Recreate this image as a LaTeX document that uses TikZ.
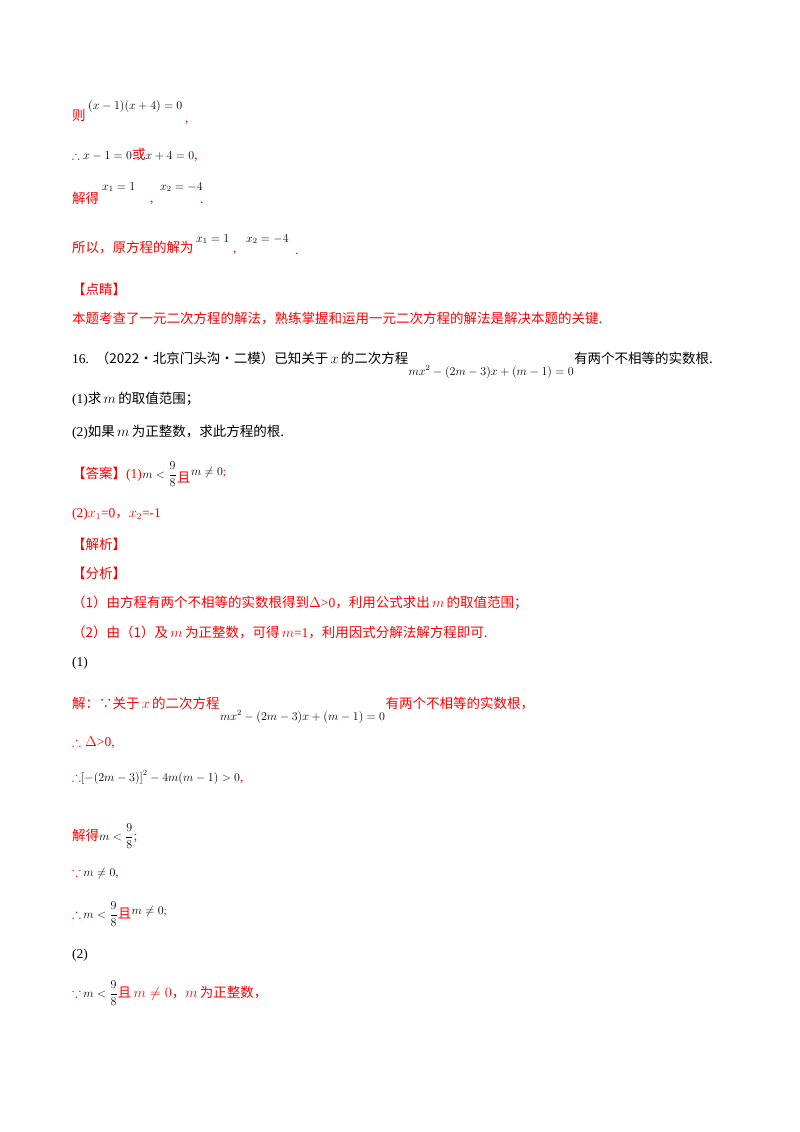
\documentclass[tikz,border=0pt]{standalone}
\usepackage{amsmath,amssymb}
\usepackage{fontspec}
\setmainfont{Liberation Serif}
\newfontfamily\cjk{Noto Sans CJK SC}
\definecolor{rd}{HTML}{FF0000}
\newcommand{\R}[1]{\textcolor{rd}{\cjk #1}}
\newcommand{\Rl}[1]{\textcolor{rd}{#1}}
\begin{document}
\begin{tikzpicture}[x=1pt,y=-1pt,
  t/.style={anchor=base west,inner sep=0pt,font=\fontsize{13.5}{16}\selectfont},
  fm/.style={t,font=\fontsize{11.5}{14}\selectfont}]
\useasboundingbox[fill=white] (0,0) rectangle (800,1132);
\node[t] (a1) at (72,120) {\R{则}};
\node[fm] (a2) at (88,109) {$(x-1)(x+4)=0$};
\node[t] (a3) at (185,122) {\Rl{,}};
\node[t] (b1) at (72,159) {{\fontsize{11.5}{14}\selectfont$\therefore x-1=0$}\R{或}{\fontsize{11.5}{14}\selectfont$x+4=0$}\Rl{,}};
\node[t] (c1) at (72,203) {\R{解得}};
\node[fm] (c2) at (102,190) {$x_1=1$};
\node[t] (c3) at (150,202) {\Rl{,}};
\node[fm] (c5) at (160,190) {$x_2=-4$};
\node[t] (c6) at (200,203) {\Rl{.}};
\node[t] (d1) at (72,252) {\R{所以，原方程的解为}};
\node[fm] (d2) at (196,242) {$x_1=1$};
\node[t] (d3) at (233,252) {\Rl{,}};
\node[fm] (d4) at (246,242) {$x_2=-4$};
\node[t] (d5) at (295,254) {\Rl{.}};
\node[t] (e1) at (72,294) {\R{【点睛】}};
\node[t] (e2) at (72,323) {\R{本题考查了一元二次方程的解法，熟练掌握和运用一元二次方程的解法是解决本题的关键.}};
\node[t] (f1) at (72,363) {16.\ \ {\cjk（2022·北京门头沟·二模）已知关于}\,$x$\,{\cjk 的二次方程}};
\node[fm] (f2) at ([yshift=-12pt]f1.base east) {$mx^2-(2m-3)x+(m-1)=0$};
\node[t] (f3) at ([yshift=12pt]f2.base east) {\cjk 有两个不相等的实数根.};
\node[t] (g1) at (72,403) {(1){\cjk 求}\,$m$\,{\cjk 的取值范围；}};
\node[t] (g2) at (72,436) {(2){\cjk 如果}\,$m$\,{\cjk 为正整数，求此方程的根.}};
\node[t] (h1) at (72,478) {\R{【答案】}\Rl{(1)}};
\node[fm] (h2) at (h1.base east) {$m<\dfrac{9}{8}$};
\node[t] (h3) at ([yshift=-4pt]h2.base east) {\R{且}};
\node[fm] (h4) at ([yshift=7pt]h3.base east) {$m\neq0$\Rl{;}};
\node[t] (i1) at (72,517) {\Rl{(2)$x_1$=0{\cjk ，}$x_2$=-1}};
\node[t] (j1) at (72,549) {\R{【解析】}};
\node[t] (j2) at (72,578) {\R{【分析】}};
\node[t] (k1) at (72,607) {\R{（1）由方程有两个不相等的实数根得到}\Rl{$\Delta$>0}\R{，利用公式求出}\Rl{\,$m$\,}\R{的取值范围；}};
\node[t] (k2) at (72,637) {\R{（2）由（1）及}\Rl{\,$m$\,}\R{为正整数，可得}\Rl{\,$m$=1}\R{，利用因式分解法解方程即可.}};
\node[t] (l1) at (72,666) {(1)};
\node[t] (m1) at (72,708) {\R{解：∵关于}\Rl{\,$x$\,}\R{的二次方程}};
\node[fm] (m2) at ([yshift=-12pt]m1.base east) {$mx^2-(2m-3)x+(m-1)=0$};
\node[t] (m3) at ([yshift=12pt]m2.base east) {\R{有两个不相等的实数根，}};
\node[t] (n1) at (72,746) {\Rl{$\therefore\Delta$>0,}};
\node[t] (o1) at (72,781) {\Rl{$\therefore$}{\fontsize{11.5}{14}\selectfont$\left[-(2m-3)\right]^2-4m(m-1)>0$}\Rl{,}};
\node[t] (p1) at (72,840) {\R{解得}{\fontsize{11.5}{14}\selectfont$m<\dfrac{9}{8}$}\Rl{;}};
\node[t] (q1) at (72,876) {\Rl{$\because$}\,{\fontsize{11.5}{14}\selectfont$m\neq0$}\Rl{,}};
\node[t] (r1) at (72,918) {\Rl{$\therefore$}\,{\fontsize{11.5}{14}\selectfont$m<\dfrac{9}{8}$}\R{且}};
\node[fm] (r2) at ([yshift=4pt]r1.base east) {$m\neq0$\Rl{;}};
\node[t] (s1) at (72,958) {(2)};
\node[t] (u1) at (72,997) {\Rl{$\because$}\,{\fontsize{11.5}{14}\selectfont$m<\dfrac{9}{8}$}\R{且}\Rl{\,$m\neq0${\cjk ，}$m$\,}\R{为正整数，}};
\end{tikzpicture}
\end{document}
